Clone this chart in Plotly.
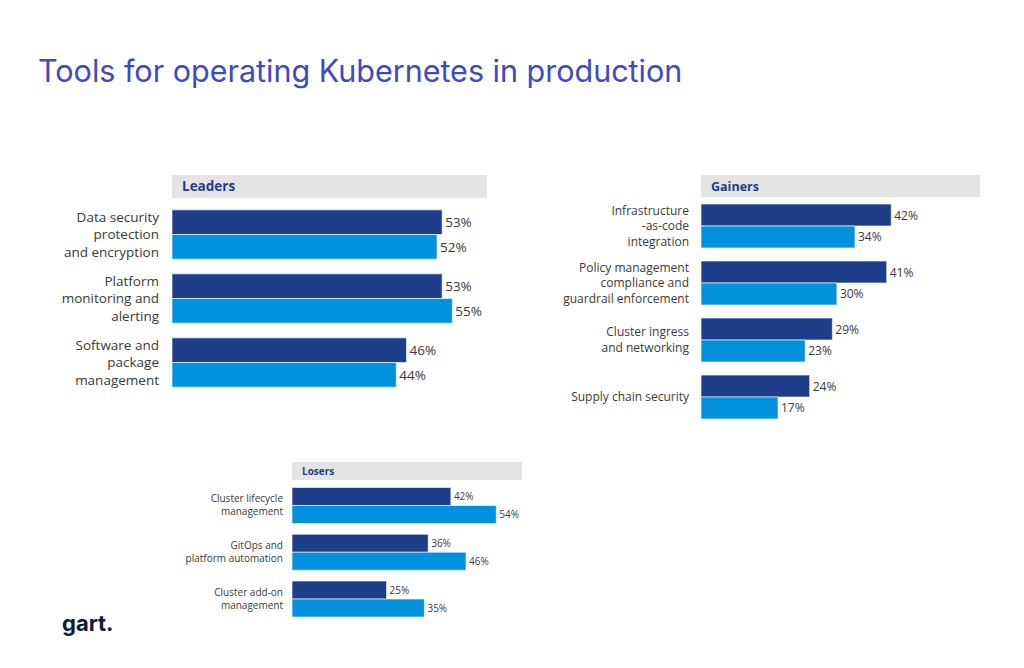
import plotly.graph_objects as go

# page body has an 8px margin; figure sized to fit inside the window
OFF = 8
W, H = 1024 - 2 * OFF, 668 - 2 * OFF

# ---- data ----
leaders_cats = ["Data security<br>protection<br>and encryption",
                "Platform<br>monitoring and<br>alerting",
                "Software and<br>package<br>management"]
leaders_dark = [53, 53, 46]
leaders_light = [52, 55, 44]

gainers_cats = ["Infrastructure<br>-as-code<br>integration",
                "Policy management<br>compliance and<br>guardrail enforcement",
                "Cluster ingress<br>and networking",
                "Supply chain security"]
gainers_dark = [42, 41, 29, 24]
gainers_light = [34, 30, 23, 17]

losers_cats = ["Cluster lifecycle<br>management",
               "GitOps and<br>platform automation",
               "Cluster add-on<br>management"]
losers_dark = [42, 36, 25]
losers_light = [54, 46, 35]

DARK = "#1f3e8a"
LIGHT = "#0292dd"
LABEL = "#3a3a3a"
FONT = "Open Sans"

def px_x(p):
    return (p - OFF) / W

def px_y(p):
    return 1 - (p - OFF) / H

panels = [
    # name, cats, dark, light, x0, x1, y_top, y_bot, xmax, textsize, labelsize, standoff, header(y0,y1), headersize
    ("Leaders", leaders_cats, leaders_dark, leaders_light, 172, 487, 202.5, 394.5, 61.8, 13.5, 13.5, 12, (175, 198), 13.5),
    ("Gainers", gainers_cats, gainers_dark, gainers_light, 701, 980, 197.5, 425.5, 61.6, 12, 12, 11, (175, 197), 12.5),
    ("Losers", losers_cats, losers_dark, losers_light, 292, 522, 482.1, 622.4, 60.8, 10, 10, 8, (462, 480), 10),
]

fig = go.Figure()
layout_axes = {}
shapes = []
annotations = []

for i, (name, cats, dark, light, x0, x1, yt, yb, xmax, tf, lf, so, hdr, hf) in enumerate(panels):
    n = "" if i == 0 else str(i + 1)
    xa, ya = "x" + n, "y" + n
    for vals, col in ((dark, DARK), (light, LIGHT)):
        fig.add_trace(go.Bar(
            x=vals, y=cats, orientation="h", xaxis=xa, yaxis=ya,
            marker=dict(color=col, line=dict(color="rgba(255,255,255,0.6)", width=1)),
            text=[f"{v}%" for v in vals], textposition="outside",
            textfont=dict(family=FONT, size=tf, color=LABEL),
            cliponaxis=False, showlegend=False, hoverinfo="skip",
        ))
    layout_axes["xaxis" + n] = dict(domain=[px_x(x0), px_x(x1)], range=[0, xmax],
                                    visible=False, fixedrange=True, anchor=ya)
    layout_axes["yaxis" + n] = dict(domain=[px_y(yb), px_y(yt)], autorange="reversed",
                                    anchor=xa, showgrid=False, zeroline=False, showline=False,
                                    ticks="", ticklabelstandoff=so,
                                    tickfont=dict(family=FONT, size=lf, color=LABEL))
    shapes.append(dict(type="rect", xref="paper", yref="paper",
                       x0=px_x(x0), x1=px_x(x1), y0=px_y(hdr[1]), y1=px_y(hdr[0]),
                       fillcolor="#e4e4e4", line=dict(width=0), layer="below"))
    annotations.append(dict(text=f"<b>{name}</b>", xref="paper", yref="paper",
                            x=px_x(x0 + 8), y=px_y((hdr[0] + hdr[1]) / 2),
                            xanchor="left", yanchor="middle", showarrow=False,
                            font=dict(family=FONT, size=hf, color="#1f3d8a")))

annotations.append(dict(text="Tools for operating Kubernetes in production",
                        xref="paper", yref="paper", x=px_x(36), y=px_y(70),
                        xanchor="left", yanchor="middle", showarrow=False,
                        font=dict(family="Inter", size=30.5, color="#3e4ac3")))
annotations.append(dict(text="<b>gart.</b>", xref="paper", yref="paper",
                        x=px_x(60), y=px_y(623), xanchor="left", yanchor="middle",
                        showarrow=False, font=dict(family="Inter", size=22, color="#0f1a33")))

fig.update_layout(
    width=W, height=H, margin=dict(l=0, r=0, t=0, b=0),
    paper_bgcolor="white", plot_bgcolor="white",
    barmode="group", bargap=0.23, bargroupgap=0.0,
    shapes=shapes, annotations=annotations, **layout_axes,
)

fig.write_html("out.html")
